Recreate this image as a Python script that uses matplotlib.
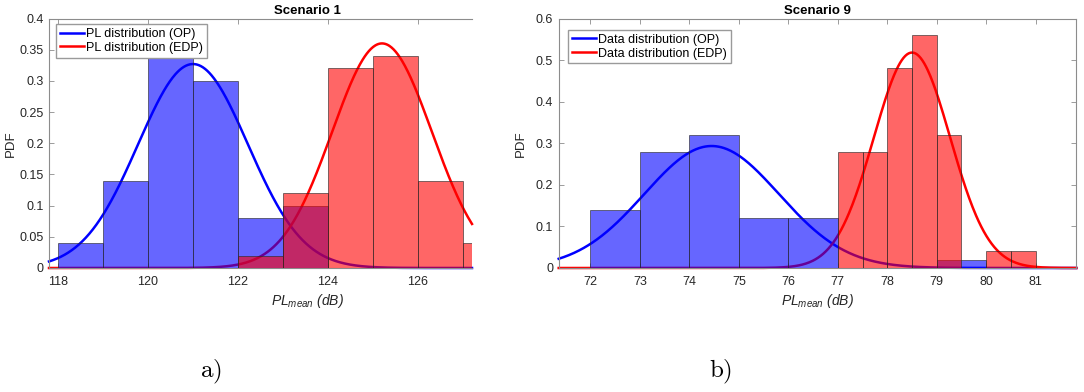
import numpy as np
import matplotlib
matplotlib.use("Agg")
import matplotlib.pyplot as plt

plt.rcParams["font.family"] = ["Liberation Sans", "DejaVu Sans"]
plt.rcParams["mathtext.fontset"] = "custom"
plt.rcParams["mathtext.it"] = "Liberation Sans:italic"
plt.rcParams["mathtext.rm"] = "Liberation Sans:italic"

# ---- Scenario 1: path-loss histograms (bin edges, PDF heights) ----
s1_op_edges = [118, 119, 120, 121, 122, 123, 124]
s1_op_pdf = [0.04, 0.14, 0.34, 0.30, 0.08, 0.10]
s1_edp_edges = [122, 123, 124, 125, 126, 127, 128]
s1_edp_pdf = [0.02, 0.12, 0.32, 0.34, 0.14, 0.04]
# fitted normal distributions (mean, std)
s1_op_fit = (121.0, 1.22)
s1_edp_fit = (125.2, 1.108)

# ---- Scenario 9 ----
s9_op_edges = [72, 73, 74, 75, 76, 77, 78, 79, 80]
s9_op_pdf = [0.14, 0.28, 0.32, 0.12, 0.12, 0.0, 0.0, 0.02]
s9_edp_edges = [77, 77.5, 78, 78.5, 79, 79.5, 80, 80.5, 81]
s9_edp_pdf = [0.28, 0.28, 0.48, 0.56, 0.32, 0.0, 0.04, 0.04]
s9_op_fit = (74.45, 1.36)
s9_edp_fit = (78.5, 0.77)

s1_xticks = [118, 120, 122, 124, 126]
s1_yticks = [0, 0.05, 0.1, 0.15, 0.2, 0.25, 0.3, 0.35, 0.4]
s1_yticklabels = ["0", "0.05", "0.1", "0.15", "0.2", "0.25", "0.3", "0.35", "0.4"]
s9_xticks = [72, 73, 74, 75, 76, 77, 78, 79, 80, 81]
s9_yticks = [0, 0.1, 0.2, 0.3, 0.4, 0.5, 0.6]
s9_yticklabels = ["0", "0.1", "0.2", "0.3", "0.4", "0.5", "0.6"]

BLUE_FACE = (0, 0, 1, 0.6)
RED_FACE = (1, 0, 0, 0.6)
EDGE = (0.15, 0.15, 0.15, 0.7)
AXCOL = "#262626"
SPINE = "#8c8c8c"

W, H = 1084, 392
AX_TOP, AX_BOT = 18.5, 268.0

XLABEL = r"$PL_{mean}$ (dB)"


def normal_pdf(x, mu, sd):
    return np.exp(-0.5 * ((x - mu) / sd) ** 2) / (sd * np.sqrt(2 * np.pi))


def draw_hist(ax, edges, heights, face):
    edges = np.asarray(edges, float)
    ax.bar(edges[:-1], heights, width=np.diff(edges), align="edge",
           facecolor=face, edgecolor=EDGE, linewidth=0.6, zorder=3)


def style_axes(ax, xlim, ylim, xticks, yticks, yticklabels, right_spine=True):
    ax.set_xlim(*xlim)
    ax.set_ylim(*ylim)
    ax.set_xticks(xticks)
    ax.set_yticks(yticks)
    ax.set_yticklabels(yticklabels)
    ax.tick_params(direction="in", length=3.5, width=0.6, color=SPINE,
                   labelcolor=AXCOL, labelsize=9, top=True,
                   right=right_spine)
    ax.tick_params(axis="x", pad=6)
    ax.tick_params(axis="y", pad=4)
    for sp in ax.spines.values():
        sp.set_color(SPINE)
        sp.set_linewidth(0.8)
    if not right_spine:
        ax.spines["right"].set_visible(False)
    ax.set_ylabel("PDF", fontsize=9.5, color=AXCOL)


def add_axes_px(fig, left, right):
    return fig.add_axes([left / W, 1 - AX_BOT / H, (right - left) / W,
                         (AX_BOT - AX_TOP) / H])


fig = plt.figure(figsize=(10.84, 3.92), dpi=100)

# ---------- panel a ----------
axa = add_axes_px(fig, 49, 472)
xa = np.linspace(117.8, 127.2, 600)
la1, = axa.plot(xa, normal_pdf(xa, *s1_op_fit), color="#0000ff", lw=1.8,
                zorder=2, clip_on=False, label="PL distribution (OP)")
la2, = axa.plot(xa, normal_pdf(xa, *s1_edp_fit), color="#ff0000", lw=1.8,
                zorder=2, clip_on=False, label="PL distribution (EDP)")
draw_hist(axa, s1_op_edges, s1_op_pdf, BLUE_FACE)
draw_hist(axa, s1_edp_edges, s1_edp_pdf, RED_FACE)
style_axes(axa, (117.8, 127.2), (0, 0.4), s1_xticks, s1_yticks,
           s1_yticklabels, right_spine=False)
axa.set_title("Scenario 1", fontsize=9.5, fontweight="bold", x=0.61,
              pad=3, color="black")
axa.set_xlabel(XLABEL, fontsize=10, color=AXCOL, fontstyle="italic")
axa.xaxis.set_label_coords(0.612, -0.095)
axa.yaxis.set_label_coords(-0.075, 0.5)
axa.legend(handles=[la1, la2], loc="upper left",
           bbox_to_anchor=(0.0173, 0.977), fontsize=9, fancybox=False,
           edgecolor="#9a9a9a", framealpha=1, borderpad=0.3,
           handlelength=1.9, handletextpad=0.2, labelspacing=0.15,
           borderaxespad=0)

# ---------- panel b ----------
axb = add_axes_px(fig, 558.7, 1076.3)
xb = np.linspace(71.36, 81.82, 600)
lb1, = axb.plot(xb, normal_pdf(xb, *s9_op_fit), color="#0000ff", lw=1.8,
                zorder=2, clip_on=False, label="Data distribution (OP)")
lb2, = axb.plot(xb, normal_pdf(xb, *s9_edp_fit), color="#ff0000", lw=1.8,
                zorder=2, clip_on=False, label="Data distribution (EDP)")
draw_hist(axb, s9_op_edges, s9_op_pdf, BLUE_FACE)
draw_hist(axb, s9_edp_edges, s9_edp_pdf, RED_FACE)
style_axes(axb, (71.36, 81.82), (0, 0.6), s9_xticks, s9_yticks,
           s9_yticklabels, right_spine=True)
axb.set_title("Scenario 9", fontsize=9.5, fontweight="bold", pad=3,
              color="black")
axb.set_xlabel(XLABEL, fontsize=10, color=AXCOL, fontstyle="italic")
axb.xaxis.set_label_coords(0.5, -0.095)
axb.yaxis.set_label_coords(-0.061, 0.5)
axb.legend(handles=[lb1, lb2], loc="upper left",
           bbox_to_anchor=(0.0185, 0.954), fontsize=9, fancybox=False,
           edgecolor="#9a9a9a", framealpha=1, borderpad=0.3,
           handlelength=1.9, handletextpad=0.2, labelspacing=0.15,
           borderaxespad=0)

# sub-figure tags
fig.text(211 / W, 1 - 372 / H, r"$\mathrm{a)}$", fontsize=18,
         math_fontfamily="cm", ha="center", va="center")
fig.text(721 / W, 1 - 372 / H, r"$\mathrm{b)}$", fontsize=18,
         math_fontfamily="cm", ha="center", va="center")

fig.savefig("out.png", dpi=100)
